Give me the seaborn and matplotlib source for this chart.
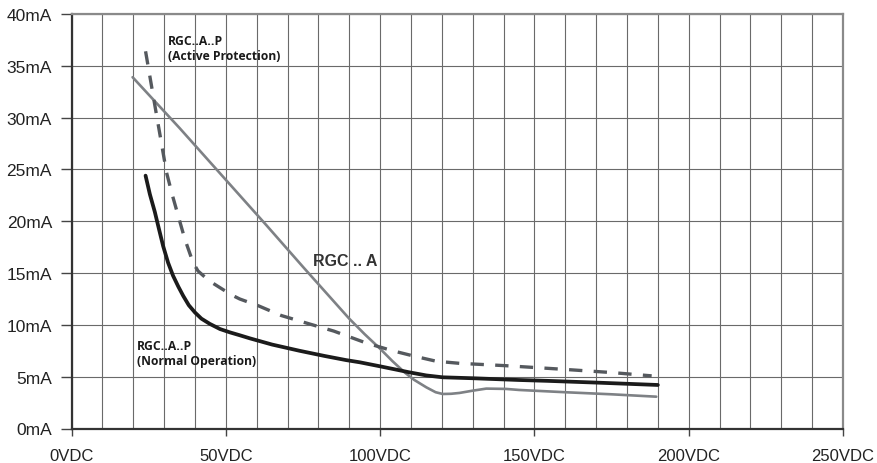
import numpy as np
import pandas as pd
import matplotlib
matplotlib.use("Agg")
import matplotlib.pyplot as plt
from matplotlib.ticker import MultipleLocator
import seaborn as sns

# ---------------- data ----------------
# RGC .. A (gray solid)
rgca_v = [19.8, 35, 50, 63.2, 75, 83.7, 90, 95, 100, 104, 108, 111, 115, 118, 120.3, 123, 125.7, 130, 134.4, 140.8, 145, 160, 175, 189.5]
rgca_ma = [33.9, 29.0, 24.0, 19.6, 15.6, 12.7, 10.6, 9.1, 7.7, 6.5, 5.4, 4.7, 3.97, 3.5, 3.33, 3.35, 3.43, 3.65, 3.85, 3.82, 3.72, 3.5, 3.3, 3.07]

# RGC..A..P Normal Operation (black solid)
norm_v = [24, 25.4, 27, 28.3, 29.7, 31.3, 32.9, 34.6, 36.2, 38.0, 40, 42.1, 44.8, 48.1, 51.3, 54.5, 57.8, 65, 73.9, 82, 89, 93.4, 100, 109.5, 115, 120.3, 130, 145, 154, 170, 190]
norm_ma = [24.4, 22.6, 20.9, 19.3, 17.6, 16.0, 14.75, 13.7, 12.8, 11.9, 11.2, 10.6, 10.1, 9.6, 9.28, 9.0, 8.7, 8.1, 7.5, 7.0, 6.6, 6.39, 6.0, 5.42, 5.12, 4.94, 4.85, 4.68, 4.6, 4.43, 4.2]

# RGC..A..P Active Protection (dashed)
act_v = [24, 27, 30.8, 32.7, 34.6, 36.7, 39.4, 41.0, 42.7, 45.4, 48.6, 51.8, 54.5, 60.5, 68, 77, 85, 95.5, 104.1, 111.2, 118.2, 125.7, 140.8, 160, 175, 188]
act_ma = [36.4, 31.2, 24.7, 22.5, 20.5, 18.3, 16.0, 15.2, 14.75, 14.1, 13.5, 12.9, 12.5, 11.85, 10.9, 10.1, 9.4, 8.25, 7.5, 6.97, 6.49, 6.29, 6.06, 5.7, 5.4, 5.08]

x_ticks = [0, 50, 100, 150, 200, 250]
x_labels = ["0VDC", "50VDC", "100VDC", "150VDC", "200VDC", "250VDC"]
y_ticks = [0, 5, 10, 15, 20, 25, 30, 35, 40]
y_labels = ["0mA", "5mA", "10mA", "15mA", "20mA", "25mA", "30mA", "35mA", "40mA"]

label_active = "RGC..A..P\n(Active Protection)"
label_normal = "RGC..A..P\n(Normal Operation)"
label_rgca = "RGC .. A"

# ---------------- plot ----------------
sns.set_style("white")
plt.rcParams["font.family"] = ["Liberation Sans", "DejaVu Sans"]

fig = plt.figure(figsize=(8.77, 4.64), dpi=100)
ax = fig.add_axes([71.5 / 877, 34.5 / 464, (843 - 71.5) / 877, (429.5 - 15) / 464])

df_a = pd.DataFrame({"v": rgca_v, "ma": rgca_ma})
df_n = pd.DataFrame({"v": norm_v, "ma": norm_ma})
df_p = pd.DataFrame({"v": act_v, "ma": act_ma})

sns.lineplot(data=df_a, x="v", y="ma", ax=ax, color="#7e8185", lw=1.9, sort=False, zorder=3)
sns.lineplot(data=df_p, x="v", y="ma", ax=ax, color="#55595e", lw=2.4, sort=False, zorder=4)
ax.lines[-1].set_dashes([4.0, 3.4])
ax.lines[-1].set_dash_capstyle("butt")
ax.lines[-1].set_solid_joinstyle("round")
sns.lineplot(data=df_n, x="v", y="ma", ax=ax, color="#1b1b1b", lw=2.7, sort=False, zorder=5)
for ln in ax.lines:
    ln.set_solid_joinstyle("round")
    ln.set_dash_joinstyle("round")

ax.set_xlim(0, 250)
ax.set_ylim(0, 40)
ax.set_xticks(x_ticks)
ax.set_xticklabels(x_labels)
ax.xaxis.set_minor_locator(MultipleLocator(10))
ax.set_yticks(y_ticks)
ax.set_yticklabels(y_labels)
ax.set_xlabel("")
ax.set_ylabel("")

ax.grid(True, which="both", axis="x", color="#6a6a6a", lw=0.8)
ax.grid(True, which="major", axis="y", color="#6a6a6a", lw=0.8)
ax.set_axisbelow(True)

ax.tick_params(axis="x", which="major", direction="out", length=5, width=1, color="#444444",
               labelsize=12, pad=9, labelcolor="#222222", bottom=True)
ax.tick_params(axis="x", which="minor", length=0)
ax.tick_params(axis="y", which="major", direction="out", length=8, width=1, color="#444444",
               labelsize=12.5, pad=6, labelcolor="#222222", left=True)

for s in ["left", "bottom"]:
    ax.spines[s].set_color("#333333")
    ax.spines[s].set_linewidth(1.6)
for s in ["top", "right"]:
    ax.spines[s].set_color("#8a8a8a")
    ax.spines[s].set_linewidth(1.6)

ann_font = dict(family=["Open Sans", "DejaVu Sans"], fontweight="bold", fontsize=8.7, color="#1a1a1a",
                linespacing=1.2)
ax.text(31.2, 38.1, label_active, ha="left", va="top", **ann_font)
ax.text(21.1, 8.6, label_normal, ha="left", va="top", **ann_font)
ax.text(78.3, 16.9, label_rgca, ha="left", va="top", fontsize=11.5, fontweight="bold", color="#333333")

fig.savefig("out.png", dpi=100)
